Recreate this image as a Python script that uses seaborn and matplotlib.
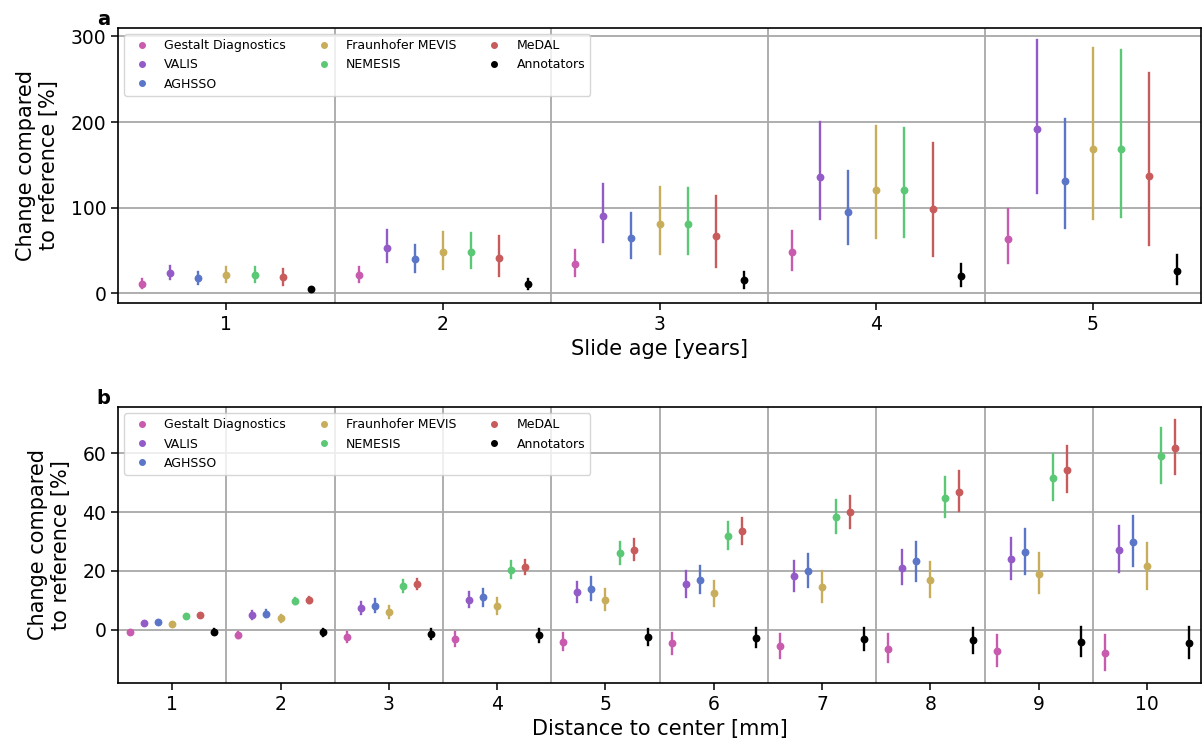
import numpy as np
import pandas as pd
import matplotlib
matplotlib.use("Agg")
import matplotlib.pyplot as plt
from matplotlib.lines import Line2D
import seaborn as sns

# ---- methods and colours -------------------------------------------------
methods = ["Gestalt Diagnostics", "VALIS", "AGHSSO", "Fraunhofer MEVIS",
           "NEMESIS", "MeDAL", "Annotators"]
colors = ["#c85bad", "#925bc8", "#5b76c8", "#c8ad5b", "#5bc876", "#c85b5b", "#000000"]

# ---- panel a: slide age (years) ------------------------------------------
age_cats = [1, 2, 3, 4, 5]
age_center = {
    "Gestalt Diagnostics": [10.2, 21.5, 34.0, 47.7, 63.3],
    "VALIS":               [23.8, 53.0, 90.2, 135.9, 192.2],
    "AGHSSO":              [18.0, 39.8, 64.8, 95.3, 130.5],
    "Fraunhofer MEVIS":    [21.5, 47.7, 80.9, 120.3, 168.4],
    "NEMESIS":             [21.5, 48.4, 80.9, 120.3, 168.8],
    "MeDAL":               [18.3, 40.6, 67.2, 98.8, 136.7],
    "Annotators":          [4.3, 10.2, 14.8, 20.3, 26.2],
}
age_low = {
    "Gestalt Diagnostics": [5.5, 12.9, 20.3, 27.3, 35.5],
    "VALIS":               [16.8, 36.3, 59.4, 86.3, 117.2],
    "AGHSSO":              [11.0, 25.0, 40.7, 57.8, 76.6],
    "Fraunhofer MEVIS":    [12.9, 28.1, 45.3, 64.8, 86.7],
    "NEMESIS":             [13.3, 28.9, 46.1, 66.0, 89.0],
    "MeDAL":               [9.4, 19.5, 30.9, 43.4, 56.6],
    "Annotators":          [3.0, 4.3, 5.9, 8.6, 11.0],
}
age_high = {
    "Gestalt Diagnostics": [16.0, 30.9, 50.0, 72.3, 98.4],
    "VALIS":               [31.6, 73.5, 127.7, 200.0, 295.3],
    "AGHSSO":              [24.6, 55.9, 94.1, 143.0, 203.0],
    "Fraunhofer MEVIS":    [30.9, 71.5, 124.6, 195.7, 286.8],
    "NEMESIS":             [30.1, 70.7, 123.4, 193.0, 283.6],
    "MeDAL":               [28.5, 66.4, 114.0, 176.0, 257.0],
    "Annotators":          [5.6, 16.0, 24.2, 33.6, 44.2],
}

# ---- panel b: distance to center (mm) ------------------------------------
dist_cats = [1, 2, 3, 4, 5, 6, 7, 8, 9, 10]
dist_center = {
    "Gestalt Diagnostics": [-0.9, -1.7, -2.4, -3.2, -4.2, -4.6, -5.6, -6.4, -7.1, -7.9],
    "VALIS":               [2.4, 5.0, 7.5, 10.1, 12.8, 15.5, 18.3, 21.0, 24.1, 27.0],
    "AGHSSO":              [2.7, 5.5, 8.1, 11.1, 13.9, 16.9, 20.0, 23.2, 26.3, 29.8],
    "Fraunhofer MEVIS":    [2.0, 4.0, 6.0, 8.1, 10.2, 12.4, 14.6, 16.8, 19.1, 21.5],
    "NEMESIS":             [4.7, 9.7, 14.8, 20.3, 26.0, 32.0, 38.3, 44.9, 51.6, 58.9],
    "MeDAL":               [4.9, 10.2, 15.7, 21.2, 27.2, 33.6, 40.1, 46.9, 54.2, 61.8],
    "Annotators":          [-0.6, -0.9, -1.5, -1.8, -2.4, -2.7, -3.2, -3.6, -4.1, -4.5],
}
dist_low = {
    "Gestalt Diagnostics": [-1.3, -2.9, -4.2, -5.5, -6.8, -8.1, -9.6, -11.1, -12.2, -13.8],
    "VALIS":               [2.0, 3.5, 5.5, 7.6, 9.4, 11.3, 13.3, 15.5, 17.4, 19.7],
    "AGHSSO":              [2.3, 4.2, 6.0, 8.1, 10.2, 12.4, 14.6, 16.7, 19.0, 21.5],
    "Fraunhofer MEVIS":    [1.6, 2.8, 3.9, 5.4, 6.7, 8.1, 9.6, 11.0, 12.4, 13.9],
    "NEMESIS":             [4.3, 8.6, 12.9, 17.6, 22.5, 27.5, 32.8, 38.2, 44.0, 49.9],
    "MeDAL":               [4.5, 9.0, 13.8, 18.8, 23.6, 29.2, 34.7, 40.5, 46.7, 53.0],
    "Annotators":          [-1.5, -2.0, -3.1, -4.1, -5.0, -5.9, -7.0, -7.9, -8.8, -9.6],
}
dist_high = {
    "Gestalt Diagnostics": [-0.5, -0.7, -0.8, -0.8, -1.1, -1.1, -1.5, -1.6, -1.8, -1.9],
    "VALIS":               [2.8, 6.3, 9.5, 12.7, 16.3, 19.8, 23.3, 27.0, 31.1, 35.1],
    "AGHSSO":              [3.1, 6.8, 10.4, 13.9, 17.9, 21.7, 25.8, 29.8, 34.3, 38.6],
    "Fraunhofer MEVIS":    [2.4, 5.1, 8.0, 10.7, 13.8, 16.7, 19.8, 22.9, 26.0, 29.5],
    "NEMESIS":             [5.1, 10.9, 16.9, 23.2, 29.7, 36.6, 44.1, 51.8, 59.8, 68.5],
    "MeDAL":               [5.3, 11.3, 17.4, 23.8, 30.8, 38.0, 45.6, 53.9, 62.3, 71.4],
    "Annotators":          [0.2, 0.1, 0.2, 0.4, 0.4, 0.6, 0.6, 0.7, 0.9, 0.9],
}


def long_table(cats, center, low, high):
    """One row per (category, method, value); the median of the three values
    is the point estimate and their min/max span gives the interval."""
    rows = []
    for m in methods:
        for i, c in enumerate(cats):
            for v in (low[m][i], center[m][i], high[m][i]):
                rows.append({"cat": c, "method": m, "value": v})
    return pd.DataFrame(rows)


def span(v):
    return (np.min(v), np.max(v))


plt.rcParams["font.family"] = ["DejaVu Sans"]

fig = plt.figure(figsize=(12.03, 7.46), dpi=100)
ax_a = fig.add_axes([0.0981, 0.5938, 0.9005, 0.3687])
ax_b = fig.add_axes([0.0981, 0.0845, 0.9005, 0.3699])

panels = [
    (ax_a, long_table(age_cats, age_center, age_low, age_high), age_cats,
     "Slide age [years]", [0, 100, 200, 300], "a"),
    (ax_b, long_table(dist_cats, dist_center, dist_low, dist_high), dist_cats,
     "Distance to center [mm]", [0, 20, 40, 60], "b"),
]

for ax, df, cats, xlabel, yticks, tag in panels:
    sns.pointplot(data=df, x="cat", y="value", hue="method",
                  order=cats, hue_order=methods, palette=colors,
                  estimator="median", errorbar=span,
                  dodge=0.78, linestyle="none", marker="o", markersize=3.6,
                  err_kws={"linewidth": 1.7}, legend=False, ax=ax)

    n = len(cats)
    ax.set_xlim(-0.5, n - 0.5)
    ax.set_xticks(np.arange(0.5, n - 1, 1.0), minor=True)
    ax.tick_params(axis="x", which="minor", length=0)
    ax.set_yticks(yticks)
    ax.set_axisbelow(True)
    ax.grid(False)
    ax.grid(True, axis="y", which="major", color="#a8a8a8", linewidth=1.3)
    ax.grid(True, axis="x", which="minor", color="#a8a8a8", linewidth=1.3)

    ax.tick_params(axis="both", which="major", labelsize=13.5, length=5, width=1.1)
    for s in ax.spines.values():
        s.set_linewidth(1.2)
        s.set_color("black")

    ax.set_xlabel(xlabel, fontsize=15, labelpad=4)
    ax.set_ylabel("Change compared\nto reference [%]", fontsize=15, labelpad=8)

    handles = [Line2D([], [], linestyle="none", marker="o", markersize=4,
                      color=c, label=m) for m, c in zip(methods, colors)]
    ax.legend(handles=handles, loc="upper left", ncol=3, fontsize=9,
              handlelength=2.0)

    pos = ax.get_position()
    fig.text(pos.x0 - 0.012, pos.y1 + 0.012, tag, fontsize=14,
             fontweight="bold", ha="center", va="center")

fig.savefig("out.png", dpi=100)
